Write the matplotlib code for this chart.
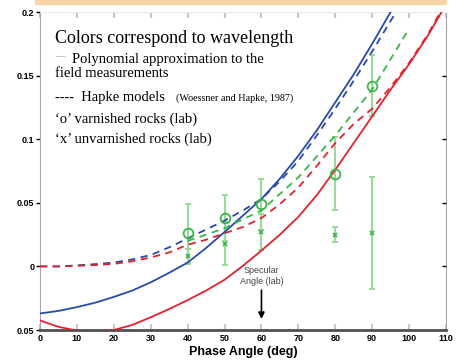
import matplotlib
matplotlib.use('Agg')
import matplotlib.pyplot as plt
from matplotlib.patches import Rectangle

# polynomial fits to the field data (solid) and Hapke models (dashed)
angle = [0, 5, 10, 15, 20, 25, 30, 35, 40, 45, 50, 55, 60, 65, 70, 75, 80, 85, 90, 95, 100, 105, 110]
blue_poly = [-0.037, -0.035, -0.032, -0.0285, -0.024, -0.019, -0.0125, -0.005, 0.003, 0.0145, 0.027,
             0.040, 0.053, 0.069, 0.087, 0.107, 0.129, 0.151, 0.175, 0.200, 0.226, 0.255, 0.285]
red_poly = [-0.0425, -0.0475, -0.0505, -0.0515, -0.0500, -0.0460, -0.0400, -0.0335, -0.0265, -0.0190, -0.0105,
            0.0005, 0.0125, 0.025, 0.039, 0.056, 0.076, 0.097, 0.118, 0.139, 0.159, 0.181, 0.206]
blue_hapke = [0.0, 0.0, 0.0008, 0.0018, 0.003, 0.0055, 0.009, 0.015, 0.022, 0.029, 0.036,
              0.044, 0.053, 0.067, 0.083, 0.103, 0.124, 0.146, 0.169, 0.193, 0.217, 0.245, 0.275]
red_hapke = [0.0, 0.0, 0.0005, 0.001, 0.002, 0.004, 0.007, 0.011, 0.017, 0.021, 0.026,
             0.031, 0.038, 0.049, 0.062, 0.079, 0.097, 0.112, 0.124, 0.141, 0.160, 0.182, 0.208]
green_angle = [40, 50, 60, 70, 80, 90, 100]
green_hapke = [0.020, 0.030, 0.044, 0.070, 0.103, 0.139, 0.187]

# lab measurements (green only)
lab_angle = [40, 50, 60, 80, 90]
varnished = [0.026, 0.038, 0.049, 0.073, 0.142]
varnished_err = [0.023, 0.018, 0.020, 0.029, 0.024]
unvarnished = [0.008, 0.018, 0.027, 0.025, 0.026]
unvarnished_err = [0.006, 0.017, 0.014, 0.006, 0.044]

xticks = list(range(0, 111, 10))
yticks = [-0.05, 0, 0.05, 0.1, 0.15, 0.2]
ytick_labels = ['0.05', '0', '0.05', '0.1', '0.15', '0.2']

BLUE = '#2a4aa8'
RED = '#e2232e'
GREEN = '#3cb44b'
ERR = '#9ada9a'

fig = plt.figure(figsize=(4.66, 3.62), dpi=100)
ax = fig.add_axes([40 / 466, 32 / 362, 406 / 466, 318 / 362])

fig.patches.append(Rectangle((35 / 466, 1 - 4 / 362), 411 / 466, 4 / 362,
                             transform=fig.transFigure, color='#f6d6a4', zorder=0))

ax.errorbar(lab_angle, varnished, yerr=varnished_err, fmt='none', ecolor=ERR,
            elinewidth=1.5, capsize=2.5, capthick=1.4, zorder=2)
ax.errorbar(lab_angle, unvarnished, yerr=unvarnished_err, fmt='none', ecolor=ERR,
            elinewidth=1.5, capsize=2.5, capthick=1.4, zorder=2)

ax.plot(angle, blue_poly, color=BLUE, lw=1.3, zorder=3)
ax.plot(angle, red_poly, color=RED, lw=1.3, zorder=3)
ax.plot(angle, blue_hapke, color=BLUE, lw=1.3, ls=(0, (4, 3)), zorder=3)
ax.plot(angle, red_hapke, color=RED, lw=1.3, ls=(0, (4, 3)), zorder=3)
ax.plot(green_angle, green_hapke, color=GREEN, lw=1.3, ls=(0, (4, 3)), zorder=3)

ax.plot(lab_angle, varnished, 'o', mfc='none', mec=GREEN, ms=7, mew=1.3, zorder=4)
ax.plot(lab_angle, unvarnished, 'x', color=GREEN, ms=3, mew=1.2, zorder=4)

ax.set_xlim(0, 110)
ax.set_ylim(-0.05, 0.2)

tick_font = dict(family='Liberation Sans', weight='bold', size=6.5)
ax.set_xticks(xticks)
ax.set_xticklabels([str(t) for t in xticks], fontdict=tick_font)
ax.set_yticks(yticks)
ax.set_yticklabels(ytick_labels, fontdict=tick_font)
ax.tick_params(axis='x', direction='in', length=4, width=1.5, color='#c8c8c8', top=True, pad=3)
ax.tick_params(axis='y', direction='out', length=3, width=1, color='black', pad=1)

ax2 = ax.twinx()
ax2.set_ylim(ax.get_ylim())
ax2.set_yticks(yticks[1:-1])
ax2.set_yticklabels([])
ax2.tick_params(axis='y', direction='in', length=3, width=1, color='black')
for sp in ax2.spines.values():
    sp.set_visible(False)

ax.spines['left'].set_color('#a8a8a8')
ax.spines['right'].set_color('#a8a8a8')
ax.spines['top'].set_color('#ececec')
ax.spines['bottom'].set_color('#505050')
ax.spines['bottom'].set_linewidth(2)

ax.set_xlabel('Phase Angle (deg)', family='Liberation Sans', weight='bold', size=9, labelpad=2)

# legend written as plain text
serif = 'Liberation Serif'
ax.text(0.037, 0.9025, 'Colors correspond to wavelength', transform=ax.transAxes,
        family=serif, size=13, va='baseline')
ax.text(0.037, 0.852, '\u2014', transform=ax.transAxes, family=serif, size=7, color='#999999', va='baseline')
ax.text(0.079, 0.841, 'Polynomial approximation to the', transform=ax.transAxes,
        family=serif, size=10.5, va='baseline')
ax.text(0.037, 0.797, 'field measurements', transform=ax.transAxes,
        family=serif, size=10.5, va='baseline')
ax.text(0.037, 0.72, '----  Hapke models', transform=ax.transAxes,
        family=serif, size=10.5, va='baseline')
ax.text(0.335, 0.72, '(Woessner and Hapke, 1987)', transform=ax.transAxes,
        family=serif, size=7.3, va='baseline')
ax.text(0.037, 0.651, '\u2018o\u2019 varnished rocks (lab)', transform=ax.transAxes,
        family=serif, size=10.5, va='baseline')
ax.text(0.037, 0.588, '\u2018x\u2019 unvarnished rocks (lab)', transform=ax.transAxes,
        family=serif, size=10.5, va='baseline')

ax.text(60, -0.0075, 'Specular\nAngle (lab)', ha='center', va='center',
        family='Liberation Sans', size=6.5, color='#444444', linespacing=1.2)
ax.annotate('', xy=(60, -0.0435), xytext=(60, -0.0165),
            arrowprops=dict(arrowstyle='-|>', color='black', lw=1.2, mutation_scale=9))

fig.savefig('out.png', dpi=100)
